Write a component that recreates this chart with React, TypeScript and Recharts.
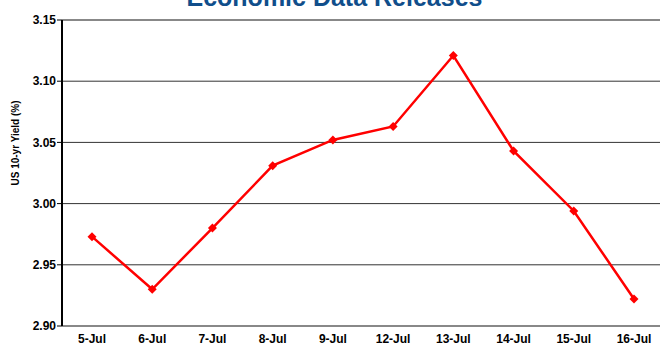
import { CartesianGrid, Line, LineChart, ReferenceLine, XAxis, YAxis } from "recharts";

const DATES = ["5-Jul", "6-Jul", "7-Jul", "8-Jul", "9-Jul", "12-Jul", "13-Jul", "14-Jul", "15-Jul", "16-Jul"];
const YIELDS = [2.973, 2.93, 2.98, 3.031, 3.052, 3.063, 3.121, 3.043, 2.994, 2.922];
const Y_TICKS = [2.9, 2.95, 3.0, 3.05, 3.1, 3.15];

const data = DATES.map((date, i) => ({ date, yield: YIELDS[i] }));

const FONT = "Arial, 'Liberation Sans', sans-serif";
const TICK = { fontSize: 12, fontWeight: 700, fill: "#000", fontFamily: FONT };

const Diamond = (props: any) => {
  const { cx, cy } = props;
  if (cx == null || cy == null) return null;
  const r = 4.5;
  return (
    <path
      d={`M${cx},${cy - r} L${cx + r},${cy} L${cx},${cy + r} L${cx - r},${cy} Z`}
      fill="#FF0000"
    />
  );
};

const YLabel = () => (
  <text
    x={15}
    y={143}
    transform="rotate(-90 15 143)"
    textAnchor="middle"
    dominantBaseline="central"
    style={{ fontSize: 10, fontWeight: 700, fill: "#000", fontFamily: FONT }}
  >
    US 10-yr Yield (%)
  </text>
);

export default function App() {
  return (
    <div style={{ position: "absolute", top: 0, left: 0, width: 660, height: 347, overflow: "hidden" }}>
      <LineChart
        width={670}
        height={347}
        data={data}
        margin={{ top: 20, right: 6, bottom: 0, left: 0 }}
      >
        <CartesianGrid vertical={false} stroke="#333" strokeWidth={1} />
        <ReferenceLine y={3.15} stroke="#888" strokeWidth={2} />
        <XAxis
          dataKey="date"
          padding={{ left: 30, right: 30 }}
          tick={TICK}
          tickLine={false}
          tickSize={0}
          tickMargin={8}
          axisLine={{ stroke: "#888", strokeWidth: 2 }}
          height={21}
          interval={0}
        />
        <YAxis
          domain={[2.9, 3.15]}
          ticks={Y_TICKS}
          tickFormatter={(v: number) => v.toFixed(2)}
          tick={TICK}
          tickSize={5}
          tickMargin={1}
          tickLine={{ stroke: "#000" }}
          axisLine={{ stroke: "#000", strokeWidth: 2 }}
          width={62}
          interval={0}
          label={<YLabel />}
        />
        <Line
          type="linear"
          dataKey="yield"
          stroke="#FF0000"
          strokeWidth={2.5}
          dot={<Diamond />}
          activeDot={false}
          isAnimationActive={false}
        />
      </LineChart>
      <div
        style={{
          position: "absolute",
          zIndex: 2,
          top: -15,
          left: 0,
          width: 669,
          textAlign: "center",
          fontFamily: FONT,
          fontWeight: 700,
          fontSize: 25,
          color: "#104E8B",
          lineHeight: "24px",
        }}
      >
        Economic Data Releases
      </div>
    </div>
  );
}
